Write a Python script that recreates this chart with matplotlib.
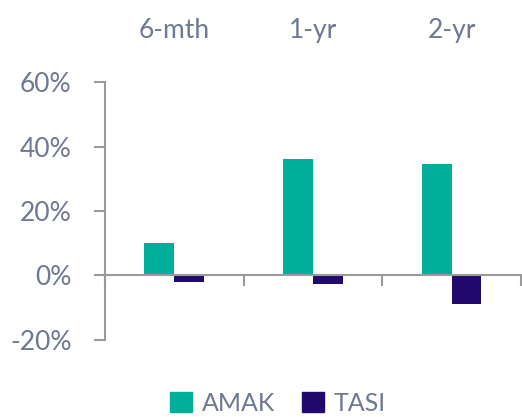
import numpy as np
import matplotlib.pyplot as plt
from matplotlib.patches import Patch

# dados
periodos = ["6-mth", "1-yr", "2-yr"]
amak = [10.0, 36.0, 34.5]
tasi = [-2.0, -2.7, -9.0]

cor_amak = "#00AE9A"
cor_tasi = "#22096E"
cor_texto = "#6E7891"
cor_eixo = "#9A9A9A"

plt.rcParams["font.family"] = ["Lato", "DejaVu Sans"]
fs = 19

fig = plt.figure(figsize=(5.22, 4.17), dpi=100)
ax = fig.add_axes([0.201, 0.185, 0.797, 0.618])

x = np.arange(len(periodos))
w = 0.215
ax.bar(x - w / 2, amak, w, color=cor_amak, label="AMAK")
ax.bar(x + w / 2, tasi, w, color=cor_tasi, label="TASI")

ax.set_xlim(-0.5, len(periodos) - 0.5)
ax.set_ylim(-20, 60)
ax.set_yticks([-20, 0, 20, 40, 60])
ax.set_yticklabels([f"{v}%" for v in [-20, 0, 20, 40, 60]])

# eixo x na linha do zero, marcas entre categorias
ax.spines["bottom"].set_position(("data", 0))
ax.spines["top"].set_visible(False)
ax.spines["right"].set_visible(False)
for s in ["left", "bottom"]:
    ax.spines[s].set_color(cor_eixo)
    ax.spines[s].set_linewidth(1.5)
ax.set_xticks(np.arange(len(periodos) + 1) - 0.5)
ax.set_xticklabels([])
ax.tick_params(axis="x", direction="out", length=8, width=1.5, color=cor_eixo)
ax.tick_params(axis="y", direction="out", length=8, width=1.5, color=cor_eixo,
               labelsize=fs, labelcolor=cor_texto, pad=16)

# rotulos das categorias no topo
for i, p in enumerate(periodos):
    ax.text(i, 1.2, p, transform=ax.get_xaxis_transform(), ha="center", va="center",
            fontsize=fs, color=cor_texto)

leg = fig.legend(handles=[Patch(color=cor_amak, label="AMAK"), Patch(color=cor_tasi, label="TASI")],
                 loc="center", bbox_to_anchor=(0.533, 0.033), ncol=2, frameon=False,
                 fontsize=18, handlelength=0.88, handleheight=0.88, handletextpad=0.4,
                 columnspacing=1.05)
for t in leg.get_texts():
    t.set_color(cor_texto)

fig.savefig("out.png", dpi=100)
